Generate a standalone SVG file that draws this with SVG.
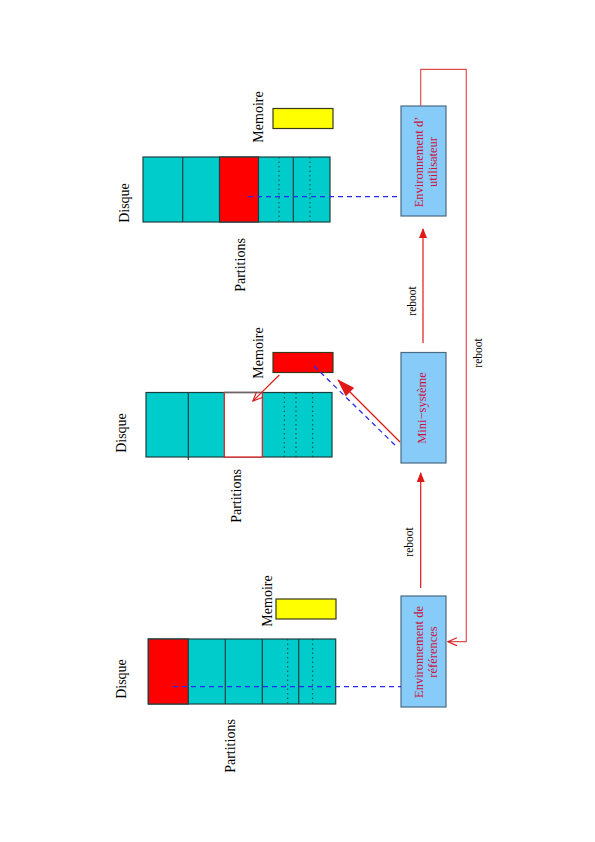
<svg xmlns="http://www.w3.org/2000/svg" width="595" height="842" viewBox="0 0 595 842">
<style>
.lbl{font-family:"Liberation Serif","DejaVu Serif",serif;font-size:14px;fill:#000;text-anchor:middle;dominant-baseline:central}
.rb{font-family:"Liberation Serif","DejaVu Serif",serif;font-size:11.5px;fill:#000;text-anchor:middle;dominant-baseline:central}
.bt{font-family:"Liberation Serif","DejaVu Serif",serif;font-size:12.5px;fill:#cc1040;text-anchor:middle;dominant-baseline:central}
.disk{fill:#00cccc;stroke:#1f3f3f;stroke-width:1.2}
.div{stroke:#1f3f3f;stroke-width:1.2}
.dot{stroke:#1f3f3f;stroke-width:1;stroke-dasharray:1.5 3}
.box{fill:#87cbf8;stroke:#4a6a86;stroke-width:1.2}
.mem{stroke:#3a3a1a;stroke-width:1.2}
.blue{stroke:#2a2aee;stroke-width:1.3;stroke-dasharray:5 4;fill:none}
.red{stroke:#e01818;stroke-width:1.2;fill:none}
</style>
<defs>
<marker id="ah" markerWidth="10" markerHeight="8" refX="9" refY="4" orient="auto" markerUnits="userSpaceOnUse">
<path d="M0,0 L10,4 L0,8 Z" fill="#e01818"/>
</marker>
<marker id="big" markerWidth="18" markerHeight="12" refX="17" refY="6" orient="auto" markerUnits="userSpaceOnUse">
<path d="M0,0 L18,6 L0,12 Z" fill="#e01818"/>
</marker>
<marker id="open" markerWidth="10" markerHeight="10" refX="9" refY="5" orient="auto" markerUnits="userSpaceOnUse">
<path d="M0,1 L9,5 L0,9" fill="none" stroke="#e01818" stroke-width="1.2"/>
</marker>
</defs>

<g id="panel-top">
<rect class="disk" x="143" y="157" width="187" height="65"/>
<rect x="219.5" y="157" width="39" height="65" fill="#ff0000" stroke="#1f3f3f" stroke-width="1.2"/>
<line class="div" x1="182.7" y1="157" x2="182.7" y2="222"/>
<line class="dot" x1="279" y1="157" x2="279" y2="222"/>
<line class="div" x1="293.3" y1="157" x2="293.3" y2="222" stroke-width="0.8"/>
<line class="dot" x1="310" y1="157" x2="310" y2="222"/>
<rect class="mem" x="273" y="108.5" width="60" height="20" fill="#ffff00"/>
<text class="lbl" transform="translate(258,117) rotate(-90)">Memoire</text>
<text class="lbl" transform="translate(124,203) rotate(-90)">Disque</text>
<text class="lbl" transform="translate(240,265) rotate(-90)">Partitions</text>
</g>

<g id="panel-mid">
<rect class="disk" x="146" y="392.5" width="186" height="64.5"/>
<line class="div" x1="188.3" y1="392.5" x2="188.3" y2="460"/>
<rect x="224.3" y="392.5" width="38" height="64.5" fill="#ffffff" stroke="#e01818" stroke-width="1.2"/>
<line x1="224.3" y1="392.5" x2="262.3" y2="392.5" stroke="#666" stroke-width="1.5"/>
<line class="dot" x1="284.3" y1="392.5" x2="284.3" y2="457"/>
<line class="dot" x1="296" y1="392.5" x2="296" y2="457"/>
<line class="dot" x1="312.7" y1="392.5" x2="312.7" y2="457"/>
<rect class="mem" x="273" y="352.5" width="60" height="20" fill="#ff0000"/>
<text class="lbl" transform="translate(258,353) rotate(-90)">Memoire</text>
<text class="lbl" transform="translate(121,433) rotate(-90)">Disque</text>
<text class="lbl" transform="translate(236,496) rotate(-90)">Partitions</text>
</g>

<g id="panel-bot">
<rect class="disk" x="148.3" y="639" width="187.4" height="65"/>
<rect x="148.3" y="639" width="40" height="65" fill="#ff0000" stroke="#1f3f3f" stroke-width="1.2"/>
<line class="div" x1="225.3" y1="639" x2="225.3" y2="704"/>
<line class="div" x1="262.3" y1="639" x2="262.3" y2="704"/>
<line class="dot" x1="287.7" y1="639" x2="287.7" y2="704"/>
<line class="div" x1="298.7" y1="639" x2="298.7" y2="704" stroke-width="0.8"/>
<line class="dot" x1="312.7" y1="639" x2="312.7" y2="704"/>
<rect class="mem" x="276" y="599" width="60" height="20" fill="#ffff00"/>
<text class="lbl" transform="translate(267,601) rotate(-90)">Memoire</text>
<text class="lbl" transform="translate(121,679) rotate(-90)">Disque</text>
<text class="lbl" transform="translate(230,746) rotate(-90)">Partitions</text>
</g>

<g id="env-user">
<rect class="box" x="401" y="106" width="45" height="110"/>
<text class="bt" transform="translate(419,162) rotate(-90)">Environnement d’</text>
<text class="bt" transform="translate(433,162) rotate(-90)">utilisateur</text>
</g>

<g id="mini-systeme">
<rect class="box" x="401" y="352.5" width="45" height="110.5"/>
<text class="bt" transform="translate(422,408) rotate(-90)">Mini−système</text>
</g>

<g id="env-ref">
<rect class="box" x="401" y="596" width="45" height="111"/>
<text class="bt" transform="translate(419,652) rotate(-90)">Environnement de</text>
<text class="bt" transform="translate(433,652) rotate(-90)">références</text>
</g>

<g id="connectors">
<line class="blue" x1="248" y1="196.7" x2="401" y2="196.7"/>
<line class="blue" x1="173" y1="686.7" x2="401" y2="686.7"/>
<line class="blue" x1="314" y1="366" x2="397" y2="447"/>
<line class="red" x1="400" y1="442" x2="338" y2="380" marker-end="url(#big)"/>
<line class="red" x1="279.3" y1="375" x2="253" y2="401" marker-end="url(#open)"/>
<line class="red" x1="420.7" y1="588" x2="420.7" y2="473" marker-end="url(#ah)"/>
<line class="red" x1="423" y1="343" x2="423" y2="229" marker-end="url(#ah)"/>
<polyline points="420.7,106 420.7,69.3 466.3,69.3 466.3,641.7 448,641.7" stroke="#e05050" stroke-width="1.2" fill="none" marker-end="url(#open)"/>
<text class="rb" transform="translate(409,542) rotate(-90)">reboot</text>
<text class="rb" transform="translate(412,301) rotate(-90)">reboot</text>
<text class="rb" transform="translate(478,353) rotate(-90)">reboot</text>
</g>
</svg>
